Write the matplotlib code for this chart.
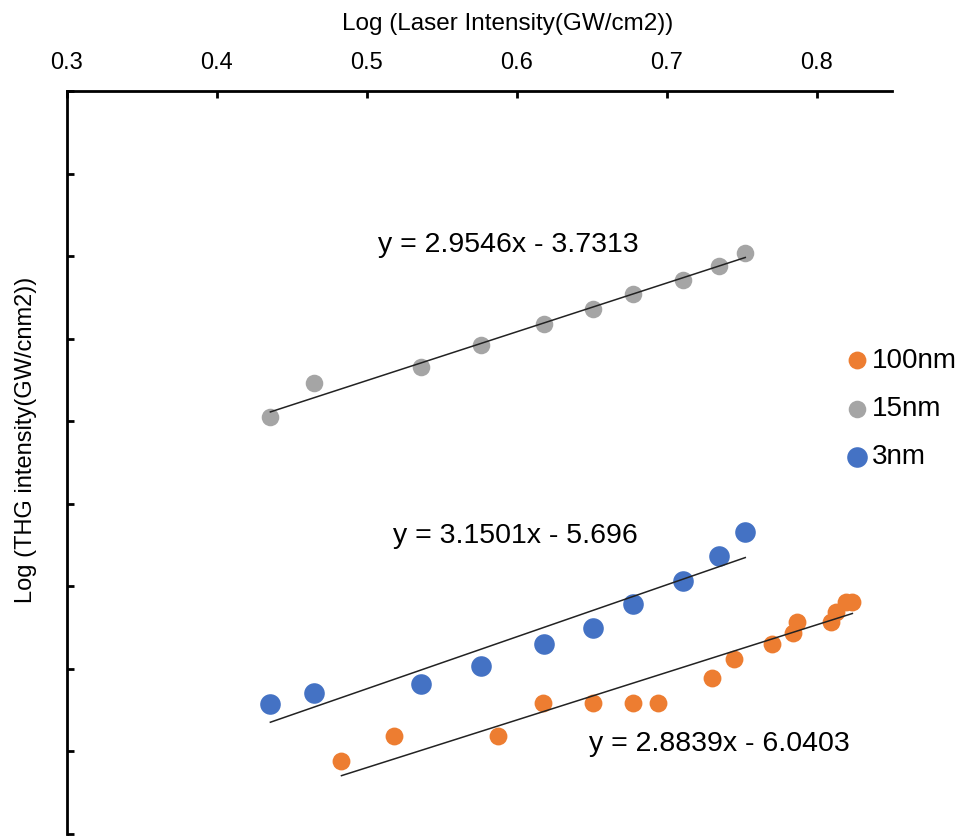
import numpy as np
import matplotlib
matplotlib.use("Agg")
import matplotlib.pyplot as plt

plt.rcParams['font.family'] = ['Liberation Sans', 'DejaVu Sans']

# log10 of laser intensity (shared by the 15nm and 3nm runs)
log_laser = [0.4358, 0.4652, 0.5360, 0.5759, 0.6180, 0.6507, 0.6774, 0.7108, 0.7346, 0.7524]
thg_15nm = [-2.476, -2.270, -2.174, -2.038, -1.913, -1.822, -1.730, -1.645, -1.558, -1.479]
thg_3nm = [-4.215, -4.144, -4.094, -3.981, -3.851, -3.751, -3.609, -3.468, -3.317, -3.173]

log_laser_100 = [0.4832, 0.5179, 0.5874, 0.6175, 0.6509, 0.6776, 0.6943, 0.7304, 0.7450,
                 0.7704, 0.7845, 0.7871, 0.8098, 0.8132, 0.8198, 0.8238]
thg_100nm = [-4.558, -4.407, -4.407, -4.207, -4.207, -4.207, -4.207, -4.055, -3.940,
             -3.850, -3.783, -3.716, -3.716, -3.656, -3.595, -3.595]

# linear trendline coefficients (slope, intercept)
fit_100nm = (2.8839, -6.0403)
fit_15nm = (2.9546, -3.7313)
fit_3nm = (3.1501, -5.696)

orange = '#ED7D31'
grey = '#A5A5A5'
blue = '#4472C4'

fig = plt.figure(figsize=(9.65, 8.38), dpi=100)
ax = fig.add_axes([0.0691, 0.0048, 0.8549, 0.8866])

ax.scatter(log_laser_100, thg_100nm, s=165, color=orange, label='100nm', zorder=3, linewidths=0)
ax.scatter(log_laser, thg_15nm, s=160, color=grey, label='15nm', zorder=3, linewidths=0)
ax.scatter(log_laser, thg_3nm, s=220, color=blue, label='3nm', zorder=3, linewidths=0)

def trend(xs, fit):
    xx = np.array([min(xs), max(xs)])
    ax.plot(xx, fit[0] * xx + fit[1], color='#222222', lw=1.1, zorder=4)

trend(log_laser_100, fit_100nm)
trend(log_laser, fit_15nm)
trend(log_laser, fit_3nm)

eq_size = 20.5
ax.text(0.5077, -1.476, 'y = %.4fx - %.4f' % (fit_15nm[0], -fit_15nm[1]),
        fontsize=eq_size, va='baseline', ha='left')
ax.text(0.5177, -3.238, 'y = %.4fx - %.3f' % (fit_3nm[0], -fit_3nm[1]),
        fontsize=eq_size, va='baseline', ha='left')
ax.text(0.6479, -4.498, 'y = %.4fx - %.4f' % (fit_100nm[0], -fit_100nm[1]),
        fontsize=eq_size, va='baseline', ha='left')

ax.set_xlim(0.3, 0.85)
ax.set_ylim(-5, -0.5)
ax.set_xticks([0.3, 0.4, 0.5, 0.6, 0.7, 0.8])
ax.set_xticklabels(['0.3', '0.4', '0.5', '0.6', '0.7', '0.8'])
ax.set_yticks(np.arange(-5, -0.49, 0.5))
ax.xaxis.tick_top()
ax.xaxis.set_label_position('top')
ax.tick_params(axis='x', direction='in', length=5, width=2, pad=12, labelsize=17)
ax.tick_params(axis='y', direction='in', length=5, width=2, labelleft=False)

ax.spines['bottom'].set_visible(False)
ax.spines['right'].set_visible(False)
ax.spines['top'].set_linewidth(2)
ax.spines['left'].set_linewidth(2)

ax.set_xlabel('Log (Laser Intensity(GW/cm2))', fontsize=17.5)
ax.xaxis.set_label_coords(0.535, 1.082)
ax.set_ylabel('Log (THG intensity(GW/cnm2))', fontsize=17)
ax.yaxis.set_label_coords(-0.036, 0.53)

leg = ax.legend(loc='center left', bbox_to_anchor=(0.948, 0.572), frameon=False,
                fontsize=20, handlelength=0.6, handletextpad=0.25,
                labelspacing=0.8, borderaxespad=0, borderpad=0)

fig.savefig('out.png', dpi=100)
